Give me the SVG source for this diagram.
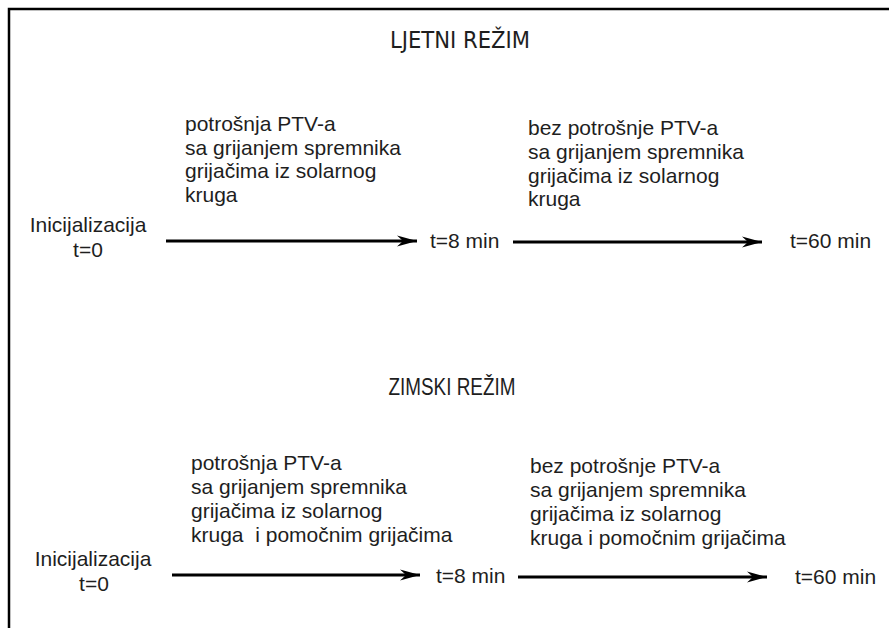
<svg xmlns="http://www.w3.org/2000/svg" width="889" height="628" viewBox="0 0 889 628">
<style>
text{font-family:"Liberation Sans",Arial,sans-serif;font-size:21px;fill:#1e1e1e}
.c{text-anchor:middle}
.t{font-family:"Liberation Sans Narrow","DejaVu Sans Condensed","Liberation Sans",sans-serif;font-size:23px}
.z{font-size:23px}
.arr{stroke:#000;stroke-width:3;fill:none;marker-end:url(#ah)}
</style>
<defs>
<marker id="ah" markerUnits="userSpaceOnUse" markerWidth="22" markerHeight="14" refX="20" refY="7" orient="auto" viewBox="0 0 22 14">
<path d="M0,1.5 L20,7 L0,12.5 L6,7 Z" fill="#000"/>
</marker>
</defs>
<rect width="889" height="628" fill="#fff"/>
<g id="frame">
<path d="M9,628 L9,9 L889,9" fill="none" stroke="#000" stroke-width="2.5"/>
</g>
<g id="title-ljetni"><text class="t c" x="460" y="48" textLength="140" lengthAdjust="spacingAndGlyphs">LJETNI REŽIM</text></g>
<g id="title-zimski"><text class="c z" x="452" y="395" textLength="127" lengthAdjust="spacingAndGlyphs">ZIMSKI REŽIM</text></g>
<g id="init-1"><text class="c" x="88" y="232">Inicijalizacija</text><text class="c" x="88" y="257">t=0</text></g>
<g id="label-1a"><text x="185" y="131">potrošnja PTV-a</text><text x="185" y="155">sa grijanjem spremnika</text><text x="185" y="178">grijačima iz solarnog</text><text x="185" y="202">kruga</text></g>
<g id="t8-1"><text x="430" y="248">t=8 min</text></g>
<g id="label-1b"><text x="528" y="135">bez potrošnje PTV-a</text><text x="528" y="159">sa grijanjem spremnika</text><text x="528" y="183">grijačima iz solarnog</text><text x="528" y="206">kruga</text></g>
<g id="t60-1"><text x="790" y="248">t=60 min</text></g>
<g id="init-2"><text class="c" x="93" y="566">Inicijalizacija</text><text class="c" x="94" y="591">t=0</text></g>
<g id="label-2a"><text x="191" y="470">potrošnja PTV-a</text><text x="191" y="494">sa grijanjem spremnika</text><text x="191" y="518">grijačima iz solarnog</text><text x="191" y="542" xml:space="preserve">kruga  i pomočnim grijačima</text></g>
<g id="t8-2"><text x="436" y="583">t=8 min</text></g>
<g id="label-2b"><text x="530" y="473">bez potrošnje PTV-a</text><text x="530" y="497">sa grijanjem spremnika</text><text x="530" y="521">grijačima iz solarnog</text><text x="530" y="545">kruga i pomočnim grijačima</text></g>
<g id="t60-2"><text x="795" y="584">t=60 min</text></g>
<g id="connectors">
<line class="arr" x1="166" y1="241" x2="417" y2="241"/>
<line class="arr" x1="513" y1="242" x2="762" y2="242"/>
<line class="arr" x1="172" y1="575" x2="420" y2="575"/>
<line class="arr" x1="518" y1="577" x2="767" y2="577"/>
</g>
</svg>
